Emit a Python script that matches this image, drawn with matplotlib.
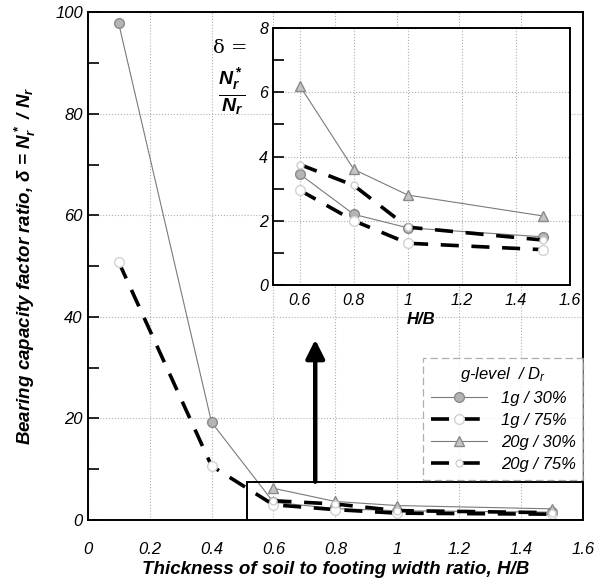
import matplotlib
matplotlib.use('Agg')
import matplotlib.pyplot as plt
from matplotlib.patches import Rectangle
from matplotlib.ticker import MultipleLocator

plt.rcParams['font.family'] = ['Liberation Sans', 'DejaVu Sans']
plt.rcParams['mathtext.fontset'] = 'custom'
plt.rcParams['mathtext.it'] = 'Liberation Sans:italic:bold'
plt.rcParams['mathtext.rm'] = 'Liberation Sans:bold'
plt.rcParams['mathtext.bf'] = 'Liberation Sans:bold'
plt.rcParams['mathtext.sf'] = 'Liberation Sans:italic'

# H/B values and delta = N*r / Nr per test series
hb_1g = [0.1, 0.4, 0.6, 0.8, 1.0, 1.5]
delta_1g_30 = [97.8, 19.2, 3.45, 2.2, 1.78, 1.5]
delta_1g_75 = [50.8, 10.6, 2.95, 2.0, 1.3, 1.1]
hb_20g = [0.6, 0.8, 1.0, 1.5]
delta_20g_30 = [6.2, 3.6, 2.8, 2.15]
delta_20g_75 = [3.75, 3.1, 1.8, 1.4]
labels = ['1g / 30%', '1g / 75%', '20g / 30%', '20g / 75%']

dash = (0, (5, 3.5))
styles = [
    dict(color='#7a7a7a', lw=0.8, ls='-', marker='o', ms=7, mfc='#b4b4b4', mec='#8a8a8a'),
    dict(color='black', lw=2.6, ls=dash, marker='o', ms=7, mfc='white', mec='#d2d2d2'),
    dict(color='#7a7a7a', lw=0.8, ls='-', marker='^', ms=7, mfc='#c4c4c4', mec='#8a8a8a'),
    dict(color='black', lw=2.6, ls=dash, marker='o', ms=5, mfc='white', mec='#cfcfcf'),
]
series = [(hb_1g, delta_1g_30), (hb_1g, delta_1g_75),
          (hb_20g, delta_20g_30), (hb_20g, delta_20g_75)]

fig = plt.figure(figsize=(6.01, 5.84), dpi=100)
ax = fig.add_axes([0.146, 0.11, 0.824, 0.869])

handles = []
for (x, y), st, lab in zip(series, styles, labels):
    h, = ax.plot(x, y, label=lab, **st)
    handles.append(h)

ax.set_xlim(0, 1.6)
ax.set_ylim(0, 100)
ax.set_xticks([0, 0.2, 0.4, 0.6, 0.8, 1, 1.2, 1.4, 1.6])
ax.set_xticklabels(['0', '0.2', '0.4', '0.6', '0.8', '1', '1.2', '1.4', '1.6'],
                   fontstyle='italic')
ax.set_yticks([0, 20, 40, 60, 80, 100])
ax.set_yticklabels(['0', '20', '40', '60', '80', '100'], fontstyle='italic')
ax.yaxis.set_minor_locator(MultipleLocator(10))
ax.grid(True, which='major', ls=':', color='#b0b0b0', lw=0.8)
ax.tick_params(axis='y', which='both', direction='in', length=8, width=1.2)
ax.tick_params(axis='x', which='both', length=0, pad=16)
ax.tick_params(labelsize=12)
for s in ax.spines.values():
    s.set_linewidth(1.4)

ax.set_xlabel('Thickness of soil to footing width ratio, H/B', fontsize=13.5,
              fontweight='bold', fontstyle='italic', labelpad=3)
ax.set_ylabel(r'Bearing capacity factor ratio, δ = $N_r^*$ / $N_r$', fontsize=13.5,
              fontweight='bold', fontstyle='italic', labelpad=12)

# zoom box and arrow to the inset
ax.add_patch(Rectangle((0.515, 0), 1.6 - 0.515, 7.5, fill=False, ec='black', lw=1.4,
                       zorder=5))
ax.annotate('', xy=(0.735, 35.5), xytext=(0.735, 7.5),
            arrowprops=dict(arrowstyle='-|>', lw=3.2, color='black', mutation_scale=28,
                            shrinkA=0, shrinkB=0))

leg = ax.legend(handles=handles, loc='lower right', bbox_to_anchor=(1.0, 0.079),
                borderaxespad=0, fontsize=12, title='g-level  / $\\mathsf{D_r}$',
                title_fontsize=12, handlelength=3.4, frameon=True, fancybox=False,
                borderpad=0.45, labelspacing=0.42, handletextpad=0.8)
for t in leg.get_texts():
    t.set_fontstyle('italic')
leg.get_title().set_fontstyle('italic')
frame = leg.get_frame()
frame.set_edgecolor('#9a9a9a')
frame.set_linestyle((0, (6, 3)))
frame.set_linewidth(0.9)

# inset: close-up of H/B >= 0.6
ins = fig.add_axes([0.454, 0.512, 0.494, 0.440])
ins.set_facecolor('white')
for (x, y), st in zip(series, styles):
    keep = [i for i, v in enumerate(x) if v >= 0.6]
    ins.plot([x[i] for i in keep], [y[i] for i in keep], **st)
ins.set_xlim(0.5, 1.6)
ins.set_ylim(0, 8)
ins.set_xticks([0.6, 0.8, 1, 1.2, 1.4, 1.6])
ins.set_xticklabels(['0.6', '0.8', '1', '1.2', '1.4', '1.6'], fontstyle='italic')
ins.set_yticks([0, 2, 4, 6, 8])
ins.set_yticklabels(['0', '2', '4', '6', '8'], fontstyle='italic')
ins.yaxis.set_minor_locator(MultipleLocator(1))
ins.grid(True, which='major', ls=':', color='#b0b0b0', lw=0.8)
ins.tick_params(axis='y', which='both', direction='in', length=8, width=1.2)
ins.tick_params(axis='x', which='both', length=0, pad=6)
ins.tick_params(labelsize=11.5)
for s in ins.spines.values():
    s.set_linewidth(1.4)
ins.set_xlabel('H/B', fontsize=12, fontweight='bold', fontstyle='italic', labelpad=3)

fig.text(0.383, 0.918, 'δ =', fontsize=14, family=['DejaVu Serif'], ha='center',
         va='center')
fig.text(0.386, 0.843, r'$\frac{N_r^*}{N_r}$', fontsize=20, ha='center', va='center')

fig.savefig('out.png', dpi=100)
